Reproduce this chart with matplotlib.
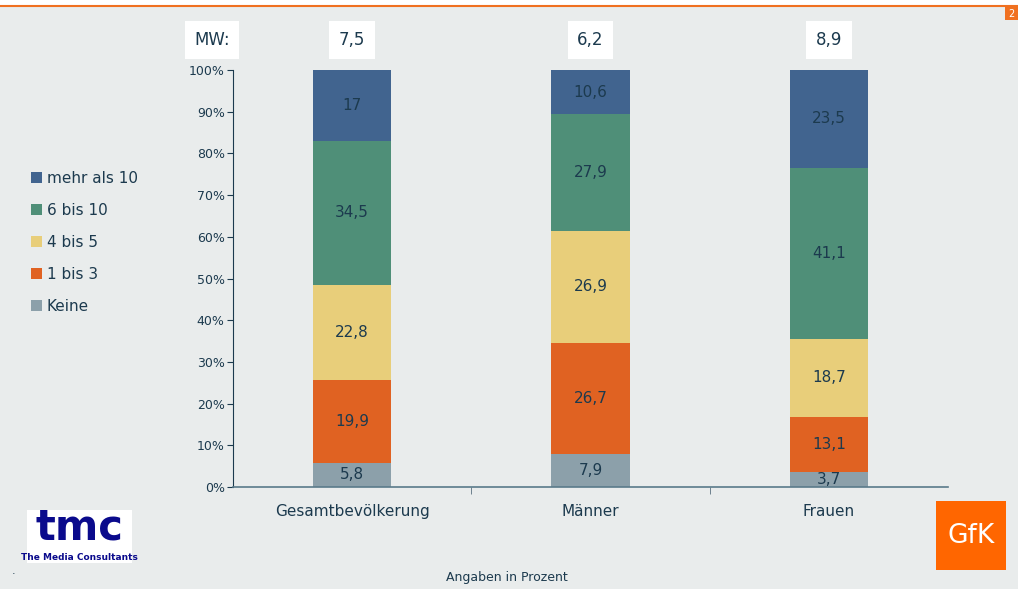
import matplotlib.pyplot as plt
import numpy as np

categories = ['Gesamtbevölkerung', 'Männer', 'Frauen']
series = ['Keine', '1 bis 3', '4 bis 5', '6 bis 10', 'mehr als 10']
values = {
    'Keine': [5.8, 7.9, 3.7],
    '1 bis 3': [19.9, 26.7, 13.1],
    '4 bis 5': [22.8, 26.9, 18.7],
    '6 bis 10': [34.5, 27.9, 41.1],
    'mehr als 10': [17, 10.6, 23.5],
}
colors = ['#8CA0AA', '#E06222', '#E8CE7A', '#4F8F78', '#41648F']
mw = ['7,5', '6,2', '8,9']

txt = '#1C3A4E'
bg = '#E9ECEC'

fig = plt.figure(figsize=(10.18, 5.89), dpi=100)
fig.patch.set_facecolor(bg)
# white strip above the orange top rule
fig.patches.append(plt.Rectangle((0, 1 - 6 / 589), 1, 6 / 589, transform=fig.transFigure,
                                 facecolor='white', edgecolor='none', zorder=-5))
fig.add_artist(plt.Line2D([0, 1], [1 - 6 / 589] * 2, color='#F07020', lw=1.5))
fig.patches.append(plt.Rectangle((1005 / 1018, 1 - 20 / 589), 13 / 1018, 13 / 589,
                                 transform=fig.transFigure, facecolor='#F07020',
                                 edgecolor='none'))
fig.text(1011 / 1018, 1 - 14 / 589, '2', color='white', fontsize=7, ha='center', va='center')

ax = fig.add_axes([233 / 1018, 1 - 487 / 589, 715 / 1018, 417 / 589])
ax.set_facecolor(bg)
x = np.arange(len(categories))
bottom = np.zeros(len(categories))
for s, c in zip(series, colors):
    v = np.array(values[s])
    ax.bar(x, v, 0.33, bottom=bottom, color=c, label=s, zorder=2)
    for xi, vi, bi in zip(x, v, bottom):
        ax.text(xi, bi + vi / 2, f'{vi:g}'.replace('.', ','), ha='center', va='center',
                color=txt, fontsize=11)
    bottom += v

ax.set_xlim(-0.5, 2.5)
ax.set_ylim(0, 100)
ax.set_yticks(np.arange(0, 101, 10))
ax.set_yticklabels([f'{t}%' for t in range(0, 101, 10)], color=txt, fontsize=9)
ax.set_xticks(x)
ax.set_xticklabels(categories, color=txt, fontsize=11)
ax.set_xticks([0.5, 1.5], minor=True)
ax.tick_params(axis='x', which='major', length=0, pad=12)
ax.tick_params(axis='x', which='minor', length=5, color='#5A7080')
ax.tick_params(axis='y', length=4, color=txt, pad=2)
for sp in ['top', 'right']:
    ax.spines[sp].set_visible(False)
ax.spines['left'].set_color(txt)
ax.spines['bottom'].set_color('#5A7A8A')
ax.spines['bottom'].set_linewidth(1.2)

# MW labels in white boxes
box = dict(facecolor='white', edgecolor='none', pad=7)
fig.text(212 / 1018, 1 - 40 / 589, 'MW:', ha='center', va='center', color=txt,
         fontsize=12, bbox=box)
for xi, m in zip(x, mw):
    xf = (233 + (xi + 0.5) * 715 / 3) / 1018
    fig.text(xf, 1 - 40 / 589, m, ha='center', va='center', color=txt, fontsize=12, bbox=box)

# legend
handles, labels = ax.get_legend_handles_labels()
fig.legend(handles[::-1], labels[::-1], loc='upper left', bbox_to_anchor=(17 / 1018, 1 - 157 / 589),
           frameon=False, fontsize=11, labelcolor=txt, handlelength=0.75, handleheight=0.75,
           handletextpad=0.3, labelspacing=1.12)

fig.text(507 / 1018, 1 - 578 / 589, 'Angaben in Prozent', ha='center', va='center',
         color=txt, fontsize=9)

# logos
fig.patches.append(plt.Rectangle((27 / 1018, 1 - 563 / 589), 105 / 1018, 53 / 589,
                                 transform=fig.transFigure, facecolor='white', edgecolor='none'))
fig.text(79 / 1018, 1 - 527 / 589, 'tmc', ha='center', va='center', color='#0A0A8C',
         fontsize=30, fontweight='bold', family='DejaVu Sans')
fig.text(79 / 1018, 1 - 557 / 589, 'The Media Consultants', ha='center', va='center',
         color='#0A0A8C', fontsize=6.5, fontweight='bold')
fig.text(12 / 1018, 1 - 574 / 589, '.', color=txt, fontsize=8)
fig.patches.append(plt.Rectangle((936 / 1018, 1 - 570 / 589), 70 / 1018, 69 / 589,
                                 transform=fig.transFigure, facecolor='#FF6600', edgecolor='none'))
fig.text(971 / 1018, 1 - 536 / 589, 'GfK', ha='center', va='center', color='white', fontsize=19)

fig.savefig('out.png', dpi=100, facecolor=fig.get_facecolor())
